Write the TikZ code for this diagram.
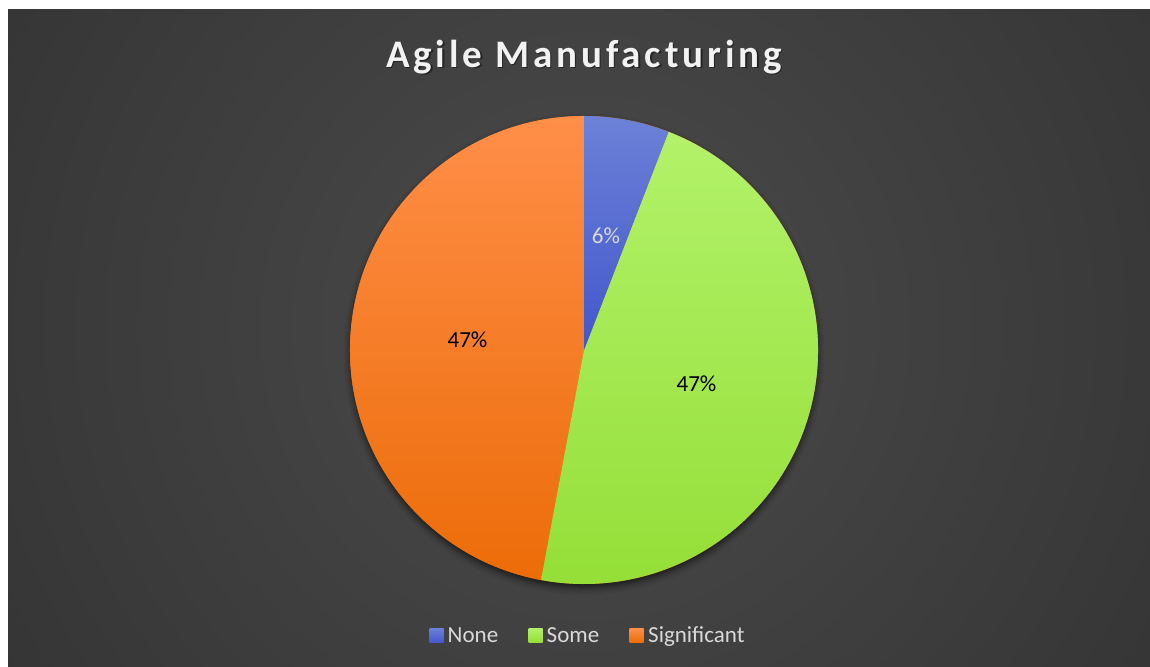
\documentclass[tikz,border=0pt]{standalone}
\usepackage{fontspec}
\setmainfont{Carlito}
\newfontfamily\titlefont[LetterSpace=10]{Carlito}
\usetikzlibrary{shadows.blur}
\definecolor{bginner}{HTML}{4B4B4B}
\definecolor{bgouter}{HTML}{1F1F1F}
\definecolor{titlecol}{HTML}{F2F2F2}
\definecolor{labcol}{HTML}{D9D9D9}
\definecolor{blueTop}{HTML}{6C81D7}
\definecolor{blueBot}{HTML}{4257CC}
\definecolor{greenTop}{HTML}{B2F26A}
\definecolor{greenBot}{HTML}{94DE36}
\definecolor{orangeTop}{HTML}{FF8E48}
\definecolor{orangeBot}{HTML}{EC6C08}
\pgfdeclareradialshading{bgshade}{\pgfpoint{0bp}{0bp}}{color(0bp)=(bginner); color(50bp)=(bgouter)}
\tikzset{
  datalab/.style={font=\fontsize{23}{26}\selectfont, inner sep=0pt},
  legtext/.style={font=\fontsize{23}{26}\selectfont, text=labcol, inner sep=0pt, anchor=base west},
  legsq/.style={minimum width=14pt, minimum height=14pt, inner sep=0pt, anchor=south west},
  titlestyle/.style={anchor=base, inner sep=0pt, font=\titlefont\fontsize{39}{43}\selectfont\bfseries},
}
\begin{document}
\begin{tikzpicture}[x=1pt,y=1pt]
\useasboundingbox (0,0) rectangle (1150,666);
\fill[white] (0,0) rectangle (1150,666);
\begin{scope}
  \clip (8,0) rectangle (1150,656);
  \shade[shading=bgshade] (585,340) circle[radius=680];
\end{scope}
% title
\node[titlestyle, text=black, opacity=0.45] (tsh) at (585.5,597.2) {Agile Manufacturing};
\node[titlestyle, text=titlecol] (title) at (584,598.7) {Agile Manufacturing};
% pie
\coordinate (c) at (584,316);
\path[blur shadow={shadow xshift=0pt, shadow yshift=-4pt, shadow blur radius=6pt, shadow opacity=60}, fill=orangeBot] (c) circle[radius=234];
\shade[top color=orangeTop, bottom color=orangeBot] (c) -- ++(-100.59:234) arc[start angle=-100.59, end angle=-270, radius=234] -- cycle;
\shade[top color=greenTop, bottom color=greenBot] (c) -- ++(68.82:234) arc[start angle=68.82, end angle=-100.59, radius=234] -- cycle;
\shade[top color=blueTop, bottom color=blueBot] (c) -- ++(90:234) arc[start angle=90, end angle=68.82, radius=234] -- cycle;
% data labels
\node[datalab, text=labcol] (l1) at (606,430) {6\%};
\node[datalab, text=black] (l3) at (467.5,326) {47\%};
\node[datalab, text=black] (l2) at (696.5,282) {47\%};
% legend
\node[legsq, shade, top color=blueTop, bottom color=blueBot] (s1) at (429.3,23.3) {};
\node[legtext] (t1) at (447.5,23.3) {None};
\node[legsq, shade, top color=greenTop, bottom color=greenBot] (s2) at (528.3,23.3) {};
\node[legtext] (t2) at (546.5,23.3) {Some};
\node[legsq, shade, top color=orangeTop, bottom color=orangeBot] (s3) at (629.3,23.3) {};
\node[legtext] (t3) at (648,23.3) {Significant};
\end{tikzpicture}
\end{document}
